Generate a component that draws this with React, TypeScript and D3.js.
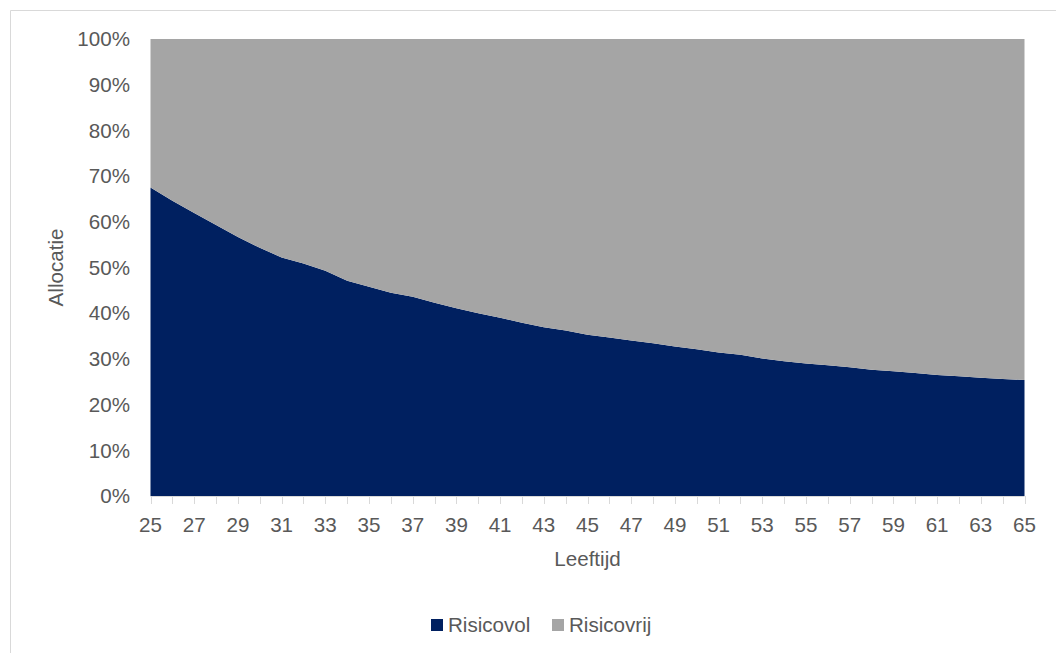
import React from "react";
import * as d3 from "d3";

const ages: number[] = [25,26,27,28,29,30,31,32,33,34,35,36,37,38,39,40,41,42,43,44,45,46,47,48,49,50,51,52,53,54,55,56,57,58,59,60,61,62,63,64,65];
const risicovol: number[] = [67.5,64.6,61.9,59.3,56.7,54.3,52.2,50.9,49.3,47.1,45.8,44.5,43.6,42.3,41.1,40.0,39.0,37.9,36.9,36.2,35.3,34.7,34.0,33.4,32.7,32.1,31.4,30.9,30.1,29.5,29.0,28.6,28.2,27.6,27.3,26.9,26.5,26.2,25.9,25.6,25.4];
const risicovrij: number[] = [32.5,35.4,38.1,40.7,43.3,45.7,47.8,49.1,50.7,52.9,54.2,55.5,56.4,57.7,58.9,60.0,61.0,62.1,63.1,63.8,64.7,65.3,66.0,66.6,67.3,67.9,68.6,69.1,69.9,70.5,71.0,71.4,71.8,72.4,72.7,73.1,73.5,73.8,74.1,74.4,74.6];
const yTicks: number[] = [0,10,20,30,40,50,60,70,80,90,100];
const xLabelAges: number[] = [25,27,29,31,33,35,37,39,41,43,45,47,49,51,53,55,57,59,61,63,65];
const seriesNames: string[] = ["Risicovol", "Risicovrij"];
const seriesColors: string[] = ["#002060", "#A5A5A5"];

export default function App() {
  const W = 1056, H = 653;
  const left = 150.5, right = 1024.5, top = 39, bottom = 496;
  const x = d3.scaleLinear().domain([25, 65]).range([left, right]);
  const y = d3.scaleLinear().domain([0, 100]).range([bottom, top]);
  const rows = ages.map((a, i) => ({ age: a, Risicovol: risicovol[i], Risicovrij: risicovrij[i] }));
  const stack = d3.stack<any>().keys(seriesNames);
  const layers = stack(rows);
  const area = d3.area<any>()
    .x((d) => x(d.data.age))
    .y0((d) => y(d[0]))
    .y1((d) => y(d[1]));
  const font = "'Liberation Sans', Arial, sans-serif";
  const textColor = "#595959";
  const grid = "#D9D9D9";
  const fs = 20.6;
  return (
    <svg width={W} height={H} style={{ position: "absolute", left: 0, top: 0, background: "#fff" }} fontFamily={font}>
      <line x1={10.5} y1={10.5} x2={W} y2={10.5} stroke={grid} strokeWidth={1} />
      <line x1={10.5} y1={10.5} x2={10.5} y2={H} stroke={grid} strokeWidth={1} />
      {layers.map((layer, i) => (
        <path key={seriesNames[i]} d={area(layer) as string} fill={seriesColors[i]} />
      ))}
      <line x1={left} x2={right} y1={bottom + 0.5} y2={bottom + 0.5} stroke={grid} />
      {ages.map((a) => (
        <line key={"t" + a} x1={Math.round(x(a)) + 0.5} x2={Math.round(x(a)) + 0.5} y1={bottom} y2={bottom + 8} stroke={grid} />
      ))}
      {yTicks.map((t) => (
        <text key={"y" + t} x={130} y={y(t)} dy="0.35em" textAnchor="end" fontSize={fs} fill={textColor}>{t}%</text>
      ))}
      {xLabelAges.map((a) => (
        <text key={"x" + a} x={x(a)} y={532} textAnchor="middle" fontSize={fs} fill={textColor}>{a}</text>
      ))}
      <text x={(left + right) / 2} y={566} textAnchor="middle" fontSize={fs} fill={textColor}>Leeftijd</text>
      <text transform={`translate(63,${(top + bottom) / 2}) rotate(-90)`} textAnchor="middle" fontSize={fs} fill={textColor}>Allocatie</text>
      <g>
        <rect x={431} y={619} width={12} height={12} fill={seriesColors[0]} />
        <text x={448} y={632} fontSize={fs} fill={textColor}>{seriesNames[0]}</text>
        <rect x={552} y={619} width={12} height={12} fill={seriesColors[1]} />
        <text x={569} y={632} fontSize={fs} fill={textColor}>{seriesNames[1]}</text>
      </g>
    </svg>
  );
}
